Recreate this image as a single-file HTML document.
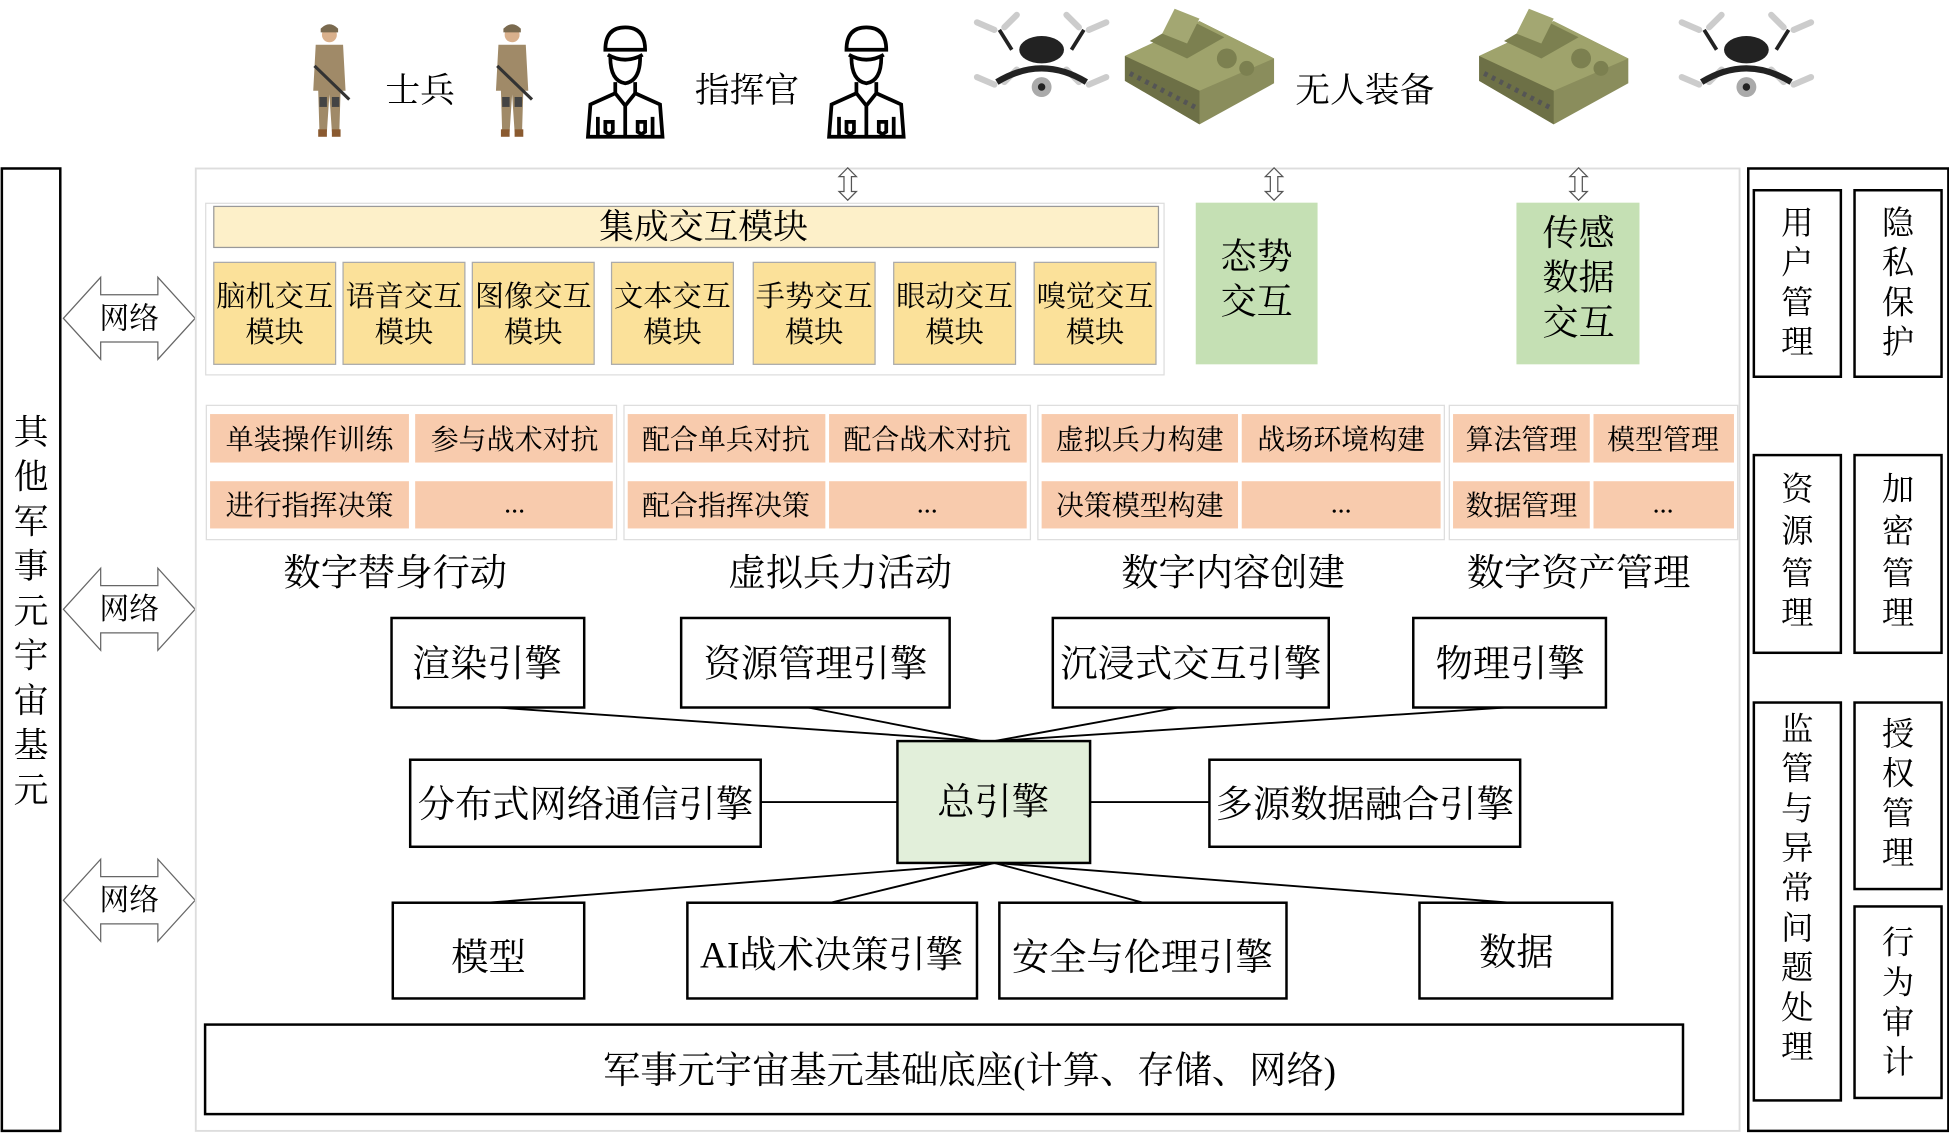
<!DOCTYPE html>
<html><head><meta charset="utf-8">
<style>
html,body{margin:0;padding:0;background:#fff;}
svg{display:block;}
text{font-family:"Liberation Serif","Noto Serif CJK SC",serif;fill:#000;}
</style></head>
<body>
<svg width="1949" height="1134" viewBox="0 0 1568 912" preserveAspectRatio="none" xmlns="http://www.w3.org/2000/svg">
<defs>
  <g id="soldier">
    <circle cx="0" cy="-40" r="6" fill="#d9b08c"/>
    <path d="M-7,-45 Q0,-52 7,-45 L7,-42 L-7,-42Z" fill="#7a6a4f"/>
    <path d="M-11,-32 L11,-32 L13,5 L9,5 L8,38 L2,38 L0,8 L-2,38 L-8,38 L-9,5 L-13,5Z" fill="#a08a68"/>
    <rect x="-8" y="10" width="6" height="8" fill="#444"/><rect x="2" y="10" width="6" height="8" fill="#444"/>
    <line x1="-12" y1="-15" x2="16" y2="12" stroke="#333" stroke-width="2.5"/>
    <rect x="-9" y="36" width="7" height="6" fill="#8a5a30"/><rect x="2" y="36" width="7" height="6" fill="#8a5a30"/>
  </g>
  <g id="cmd" fill="none" stroke="#000" stroke-width="3">
    <path d="M-16,-30 Q-16,-48 0,-48 Q16,-48 16,-30 Z"/>
    <path d="M-14,-26 Q0,-18 14,-26"/>
    <path d="M-12,-24 Q-12,-5 0,-3 Q12,-5 12,-24"/>
    <path d="M-8,-4 L-8,5 L-28,14 L-30,40 L30,40 L28,14 L8,5 L8,-4"/>
    <path d="M-8,5 L0,15 L8,5 M0,15 L0,40"/>
    <path d="M-22,24 L-22,40 M22,24 L22,40 M-16,28 L-10,28 L-10,36 L-13,38 L-16,36Z M10,28 L16,28 L16,36 L13,38 L10,36Z"/>
  </g>
  <g id="drone">
    <g stroke="#ccc" stroke-width="5" stroke-linecap="round">
      <line x1="-52" y1="-34" x2="-38" y2="-28"/><line x1="-30" y1="-30" x2="-20" y2="-40"/>
      <line x1="52" y1="-34" x2="38" y2="-28"/><line x1="30" y1="-30" x2="20" y2="-40"/>
      <line x1="-52" y1="10" x2="-38" y2="16"/><line x1="-30" y1="14" x2="-20" y2="4"/>
      <line x1="52" y1="10" x2="38" y2="16"/><line x1="30" y1="14" x2="20" y2="4"/>
    </g>
    <path d="M-34,-28 L-24,-12 M34,-28 L24,-12" stroke="#222" stroke-width="3"/>
    <ellipse cx="0" cy="-12" rx="18" ry="11" fill="#222"/>
    <path d="M-36,14 Q0,-8 36,14" stroke="#222" stroke-width="5" fill="none"/>
    <circle cx="0" cy="18" r="8" fill="#aaa"/><circle cx="0" cy="18" r="3" fill="#222"/>
  </g>
  <g id="tank">
    <path d="M-60,-10 L0,-38 L60,-8 L60,12 L0,45 L-60,10Z" fill="#8a8d5c"/>
    <path d="M-60,-10 L0,18 L60,-8 L0,-38Z" fill="#9fa36c"/>
    <path d="M-60,-10 L0,18 L0,45 L-60,10Z" fill="#6d7046"/>
    <path d="M-40,-22 L-10,-40 L20,-25 L-10,-8Z" fill="#7c8050"/>
    <path d="M-30,-28 L-20,-48 L0,-40 L-10,-20Z" fill="#a3a772"/>
    <circle cx="22" cy="-8" r="8" fill="#7c8050"/><circle cx="38" cy="0" r="6" fill="#7c8050"/>
    <path d="M-56,4 L-2,32" stroke="#555" stroke-width="4" stroke-dasharray="3 4"/>
  </g>
  <g id="harrow">
    <path d="M0,0 L30,-33 L30,-19 L76,-19 L76,-33 L106,0 L76,33 L76,19 L30,19 L30,33Z" fill="#fff" stroke="#666" stroke-width="1"/>
  </g>
  <g id="varrow">
    <path d="M0,-13 L7,-6 L3,-6 L3,6 L7,6 L0,13 L-7,6 L-3,6 L-3,-6 L-7,-6Z" fill="#fff" stroke="#555" stroke-width="1"/>
  </g>
</defs>

<!-- top icons -->
<use href="#soldier" x="265" y="68"/>
<use href="#soldier" x="412" y="68"/>
<text x="338" y="82" font-size="28" text-anchor="middle">士兵</text>
<use href="#cmd" x="503" y="70"/>
<use href="#cmd" x="697" y="70"/>
<text x="601" y="82" font-size="28" text-anchor="middle">指挥官</text>
<use href="#drone" x="838" y="52"/>
<use href="#tank" x="965" y="55"/>
<text x="1098" y="82" font-size="28" text-anchor="middle">无人装备</text>
<use href="#tank" x="1250" y="55"/>
<use href="#drone" x="1405" y="52"/>

<!-- left bar -->
<rect x="1.5" y="135.5" width="47" height="774" fill="#fff" stroke="#000" stroke-width="2"/>
<g font-size="28" text-anchor="middle">
<text x="25" y="357">其</text><text x="25" y="393">他</text><text x="25" y="429">军</text><text x="25" y="465">事</text><text x="25" y="501">元</text><text x="25" y="537">宇</text><text x="25" y="573">宙</text><text x="25" y="609">基</text><text x="25" y="645">元</text>
</g>
<use href="#harrow" x="51" y="256"/><text x="104" y="264" font-size="24" text-anchor="middle">网络</text>
<use href="#harrow" x="51" y="490"/><text x="104" y="498" font-size="24" text-anchor="middle">网络</text>
<use href="#harrow" x="51" y="724"/><text x="104" y="732" font-size="24" text-anchor="middle">网络</text>

<!-- main container -->
<rect x="157.5" y="135.5" width="1242" height="774" fill="none" stroke="#ddd" stroke-width="1.5"/>
<use href="#varrow" x="682" y="148"/>
<use href="#varrow" x="1025" y="148"/>
<use href="#varrow" x="1270" y="148"/>

<!-- integrated module -->
<rect x="165.5" y="163.5" width="771" height="138" fill="#fff" stroke="#ddd"/>
<rect x="172" y="166" width="760" height="33" fill="#fdf0c9" stroke="#999"/>
<text x="566" y="192" font-size="28" text-anchor="middle">集成交互模块</text>
<g fill="#fbe19a" stroke="#aaa">
<rect x="172" y="211" width="98" height="82"/><rect x="276" y="211" width="98" height="82"/><rect x="380" y="211" width="98" height="82"/><rect x="492" y="211" width="98" height="82"/><rect x="606" y="211" width="98" height="82"/><rect x="719" y="211" width="98" height="82"/><rect x="832" y="211" width="98" height="82"/>
</g>
<g font-size="23.5" text-anchor="middle">
<text x="221" y="246">脑机交互</text><text x="221" y="275">模块</text>
<text x="325" y="246">语音交互</text><text x="325" y="275">模块</text>
<text x="429" y="246">图像交互</text><text x="429" y="275">模块</text>
<text x="541" y="246">文本交互</text><text x="541" y="275">模块</text>
<text x="655" y="246">手势交互</text><text x="655" y="275">模块</text>
<text x="768" y="246">眼动交互</text><text x="768" y="275">模块</text>
<text x="881" y="246">嗅觉交互</text><text x="881" y="275">模块</text>
</g>
<rect x="962" y="163" width="98" height="130" fill="#c5e0b4"/>
<text x="1011" y="216" font-size="29" text-anchor="middle">态势</text><text x="1011" y="252" font-size="29" text-anchor="middle">交互</text>
<rect x="1220" y="163" width="99" height="130" fill="#c5e0b4"/>
<text x="1270" y="197" font-size="29" text-anchor="middle">传感</text><text x="1270" y="233" font-size="29" text-anchor="middle">数据</text><text x="1270" y="269" font-size="29" text-anchor="middle">交互</text>

<!-- pink groups -->
<g fill="#fff" stroke="#ddd">
<rect x="166" y="326" width="330" height="108"/><rect x="502" y="326" width="327" height="108"/><rect x="835" y="326" width="327" height="108"/><rect x="1166" y="326" width="232" height="108"/>
</g>
<g fill="#f8cbad">
<rect x="169" y="333" width="160" height="39"/><rect x="334" y="333" width="159" height="39"/>
<rect x="169" y="387" width="160" height="38"/><rect x="334" y="387" width="159" height="38"/>
<rect x="505" y="333" width="159" height="39"/><rect x="667" y="333" width="159" height="39"/>
<rect x="505" y="387" width="159" height="38"/><rect x="667" y="387" width="159" height="38"/>
<rect x="838" y="333" width="158" height="39"/><rect x="999" y="333" width="160" height="39"/>
<rect x="838" y="387" width="158" height="38"/><rect x="999" y="387" width="160" height="38"/>
<rect x="1169" y="333" width="110" height="39"/><rect x="1282" y="333" width="113" height="39"/>
<rect x="1169" y="387" width="110" height="38"/><rect x="1282" y="387" width="113" height="38"/>
</g>
<g font-size="22.5" text-anchor="middle">
<text x="249" y="361">单装操作训练</text><text x="414" y="361">参与战术对抗</text>
<text x="249" y="414">进行指挥决策</text><text x="414" y="412">...</text>
<text x="584" y="361">配合单兵对抗</text><text x="746" y="361">配合战术对抗</text>
<text x="584" y="414">配合指挥决策</text><text x="746" y="412">...</text>
<text x="917" y="361">虚拟兵力构建</text><text x="1079" y="361">战场环境构建</text>
<text x="917" y="414">决策模型构建</text><text x="1079" y="412">...</text>
<text x="1224" y="361">算法管理</text><text x="1338" y="361">模型管理</text>
<text x="1224" y="414">数据管理</text><text x="1338" y="412">...</text>
</g>
<g font-size="30" text-anchor="middle">
<text x="318" y="471">数字替身行动</text><text x="676" y="471">虚拟兵力活动</text><text x="992" y="471">数字内容创建</text><text x="1270" y="471">数字资产管理</text>
</g>

<!-- connectors -->
<g stroke="#000" stroke-width="1.5">
<line x1="400" y1="569" x2="790" y2="596"/><line x1="650" y1="569" x2="790" y2="596"/>
<line x1="948" y1="569" x2="800" y2="596"/><line x1="1212" y1="569" x2="800" y2="596"/>
<line x1="612" y1="645" x2="722" y2="645"/><line x1="877" y1="645" x2="973" y2="645"/>
<line x1="800" y1="694" x2="392" y2="726"/><line x1="800" y1="694" x2="668" y2="726"/>
<line x1="800" y1="694" x2="920" y2="726"/><line x1="800" y1="694" x2="1215" y2="726"/>
</g>

<!-- engines -->
<g fill="#fff" stroke="#000" stroke-width="2">
<rect x="315" y="497" width="155" height="72"/><rect x="548" y="497" width="216" height="72"/><rect x="847" y="497" width="222" height="72"/><rect x="1137" y="497" width="155" height="72"/>
<rect x="330" y="611" width="282" height="70"/><rect x="973" y="611" width="250" height="70"/>
<rect x="316" y="726" width="154" height="77"/><rect x="553" y="726" width="233" height="77"/><rect x="804" y="726" width="231" height="77"/><rect x="1142" y="726" width="155" height="77"/>
<rect x="165" y="824" width="1189" height="72"/>
</g>
<rect x="722" y="596" width="155" height="98" fill="#e2efda" stroke="#000" stroke-width="2"/>
<g font-size="30" text-anchor="middle">
<text x="392" y="544">渲染引擎</text><text x="656" y="544">资源管理引擎</text><text x="958" y="544">沉浸式交互引擎</text><text x="1215" y="544">物理引擎</text>
<text x="471" y="657">分布式网络通信引擎</text><text x="799" y="655">总引擎</text><text x="1098" y="657">多源数据融合引擎</text>
<text x="393" y="780">模型</text><text x="669" y="778">AI战术决策引擎</text><text x="919" y="780">安全与伦理引擎</text><text x="1220" y="776">数据</text>
<text x="780" y="871">军事元宇宙基元基础底座(计算、存储、网络)</text>
</g>

<!-- right container -->
<rect x="1406.5" y="135.5" width="161" height="774" fill="none" stroke="#000" stroke-width="2"/>
<g fill="#fff" stroke="#000" stroke-width="2">
<rect x="1411" y="153" width="70" height="150"/><rect x="1492" y="153" width="70" height="150"/>
<rect x="1411" y="366" width="70" height="159"/><rect x="1492" y="366" width="70" height="159"/>
<rect x="1411" y="565" width="70" height="320"/><rect x="1492" y="565" width="70" height="150"/>
<rect x="1492" y="729" width="70" height="154"/>
</g>
<g font-size="26" text-anchor="middle">
<text x="1446" y="188">用</text><text x="1446" y="220">户</text><text x="1446" y="252">管</text><text x="1446" y="284">理</text>
<text x="1527" y="188">隐</text><text x="1527" y="220">私</text><text x="1527" y="252">保</text><text x="1527" y="284">护</text>
<text x="1446" y="402">资</text><text x="1446" y="436">源</text><text x="1446" y="470">管</text><text x="1446" y="502">理</text>
<text x="1527" y="402">加</text><text x="1527" y="436">密</text><text x="1527" y="470">管</text><text x="1527" y="502">理</text>
<text x="1446" y="595">监</text><text x="1446" y="627">管</text><text x="1446" y="659">与</text><text x="1446" y="691">异</text><text x="1446" y="723">常</text><text x="1446" y="755">问</text><text x="1446" y="787">题</text><text x="1446" y="819">处</text><text x="1446" y="851">理</text>
<text x="1527" y="599">授</text><text x="1527" y="631">权</text><text x="1527" y="663">管</text><text x="1527" y="695">理</text>
<text x="1527" y="767">行</text><text x="1527" y="799">为</text><text x="1527" y="831">审</text><text x="1527" y="863">计</text>
</g>
</svg>
</body></html>
